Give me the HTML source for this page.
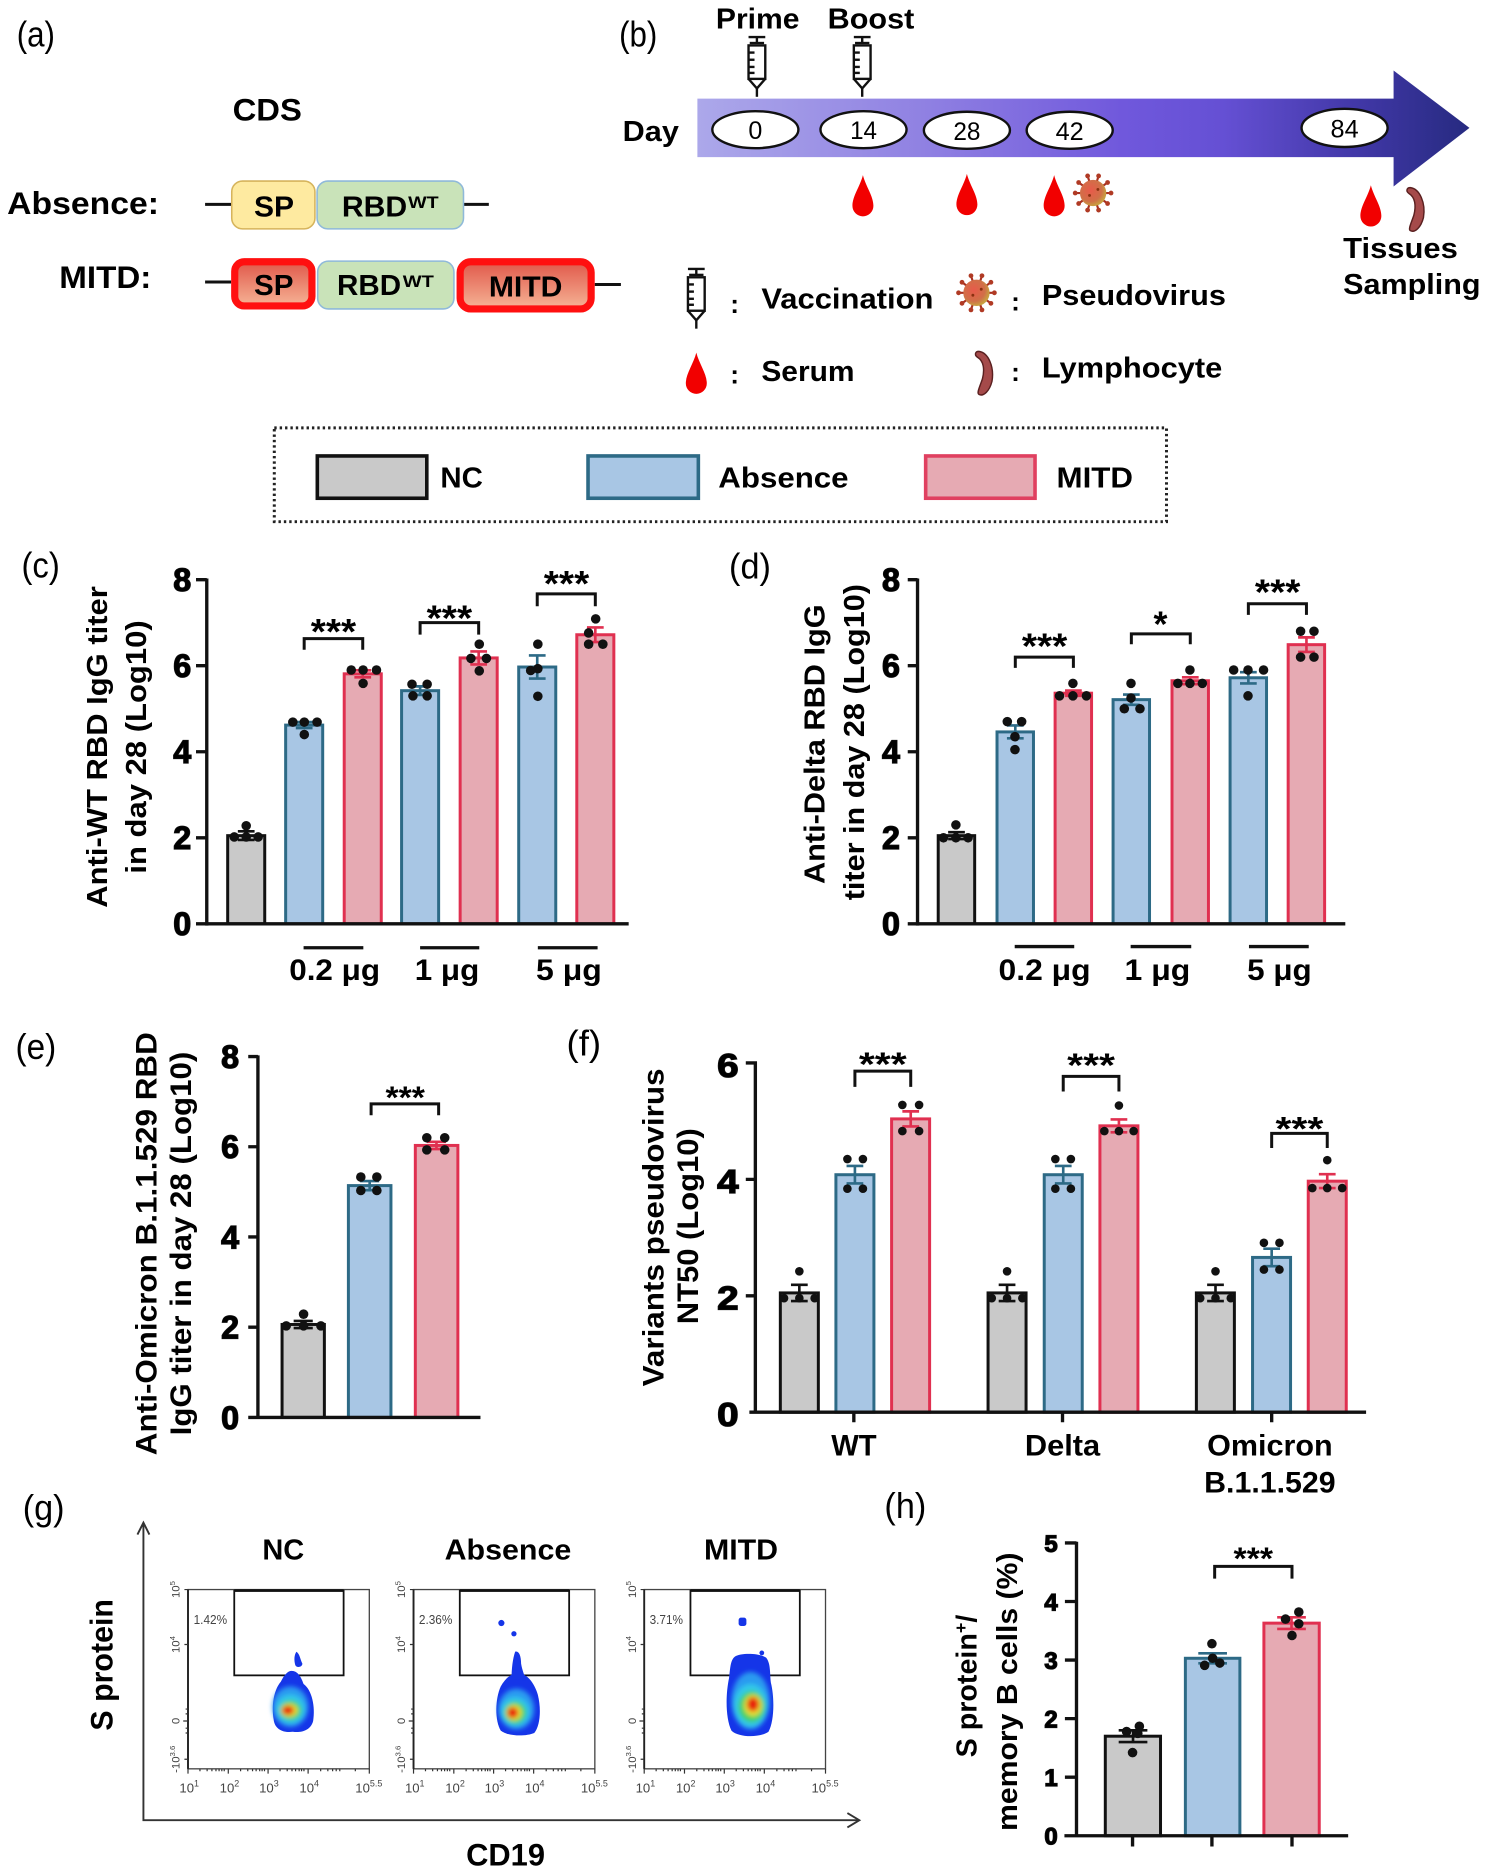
<!DOCTYPE html>
<html><head><meta charset="utf-8"><style>
html,body{margin:0;padding:0;background:#fff}
svg{display:block}
text{font-family:"Liberation Sans",Arial,"DejaVu Sans",sans-serif}
.b{font-weight:bold}
.tk{font-weight:bold;stroke:#111;stroke-width:1.1px;paint-order:stroke}
</style></head><body>
<svg width="1488" height="1874" viewBox="0 0 1245 1568" preserveAspectRatio="none" xmlns="http://www.w3.org/2000/svg">
<defs>
<linearGradient id="arrowG" gradientUnits="userSpaceOnUse" x1="583" y1="0" x2="1230" y2="0">
<stop offset="0" stop-color="#aca8ea"/><stop offset="0.3" stop-color="#8f80e2"/><stop offset="0.55" stop-color="#7058dc"/><stop offset="0.68" stop-color="#6550d4"/><stop offset="0.85" stop-color="#4238a8"/><stop offset="1" stop-color="#262a80"/>
</linearGradient>
<linearGradient id="redF" x1="0" y1="0" x2="0" y2="1"><stop offset="0" stop-color="#e0584a"/><stop offset="1" stop-color="#f6b496"/></linearGradient>
<radialGradient id="virG" cx="0.4" cy="0.4" r="0.6"><stop offset="0" stop-color="#e85a4a"/><stop offset="0.7" stop-color="#d07048"/><stop offset="1" stop-color="#c8a040"/></radialGradient>
<filter id="bl" x="-50%" y="-50%" width="200%" height="200%"><feGaussianBlur stdDeviation="2"/></filter>
<g id="syr" fill="none" stroke="#111" stroke-width="2">
<line x1="-7" y1="1" x2="7" y2="1"/><line x1="0" y1="1" x2="0" y2="6"/><line x1="-6" y1="6" x2="6" y2="6"/>
<rect x="-7" y="8" width="14" height="28" fill="#fff"/>
<line x1="-7" y1="14" x2="-2" y2="14"/><line x1="-7" y1="20" x2="-2" y2="20"/><line x1="-7" y1="26" x2="-2" y2="26"/><line x1="-7" y1="31" x2="-2" y2="31"/>
<polyline points="-7,36 0,44 7,36"/><line x1="0" y1="44" x2="0" y2="51"/>
</g>
<path id="drop" fill="#f20000" d="M0,0 C2,8 7.5,15 7.5,22 A7.5,7.5 0 0 1 -7.5,22 C-7.5,15 -2,8 0,0 Z"/>
<g id="vir">
<g stroke="#a83020" stroke-width="1.8"><line x1="0" y1="0" x2="15" y2="0"/><line x1="0" y1="0" x2="12.1" y2="8.8"/><line x1="0" y1="0" x2="4.6" y2="14.3"/><line x1="0" y1="0" x2="-4.6" y2="14.3"/><line x1="0" y1="0" x2="-12.1" y2="8.8"/><line x1="0" y1="0" x2="-15" y2="0"/><line x1="0" y1="0" x2="-12.1" y2="-8.8"/><line x1="0" y1="0" x2="-4.6" y2="-14.3"/><line x1="0" y1="0" x2="4.6" y2="-14.3"/><line x1="0" y1="0" x2="12.1" y2="-8.8"/></g>
<circle r="11" fill="url(#virG)"/>
<g fill="#b03a24"><circle cx="15" cy="0" r="2"/><circle cx="12.1" cy="8.8" r="2"/><circle cx="4.6" cy="14.3" r="2"/><circle cx="-4.6" cy="14.3" r="2"/><circle cx="-12.1" cy="8.8" r="2"/><circle cx="-15" cy="0" r="2"/><circle cx="-12.1" cy="-8.8" r="2"/><circle cx="-4.6" cy="-14.3" r="2"/><circle cx="4.6" cy="-14.3" r="2"/><circle cx="12.1" cy="-8.8" r="2"/></g>
<circle cx="-3" cy="2" r="1.2" fill="#8a3010"/><circle cx="4" cy="-3" r="1.2" fill="#8a3010"/>
</g>
<path id="lym" fill="#a54a4a" stroke="#5a2020" stroke-width="1.2" d="M1180,157 C1188,158 1193,170 1191,182 C1189,190 1184,195 1180,193 C1178,192 1181,186 1183,180 C1185,172 1184,165 1179,162 C1176,160 1177,157 1180,157 Z"/>
<g id="fp">
<rect x="0" y="0" width="151.7" height="150" fill="none" stroke="#444" stroke-width="1.1"/>
<line x1="0" y1="0" x2="0" y2="150" stroke="#222" stroke-width="1.6"/>
<line x1="38.7" y1="0.8" x2="130.2" y2="0.8" stroke="#111" stroke-width="2.2"/>
<rect x="38.7" y="1" width="91.5" height="70.8" fill="none" stroke="#111" stroke-width="1.5"/>
<path stroke="#333" stroke-width="1" fill="none" d="M-3,0H0M-3,46H0M-4,110H0M-3,142H0M-2,100H0M-2,104H0M-2,116H0M-2,120H0M0,150V154M33.7,150V154M67,150V154M100.5,150V154M151.7,150V154M10,150V152M16,150V152M20,150V152M23.4,150V152M26,150V152M28.3,150V152M30.3,150V152M44,150V152M50,150V152M54,150V152M57,150V152M60,150V152M62,150V152M64,150V152M77,150V152M83,150V152M87,150V152M90,150V152M93,150V152M95,150V152M97,150V152M111,150V152M117,150V152M121,150V152M124,150V152M127,150V152M140,150V152"/>
<g fill="#444" font-size="9.5">
<text transform="translate(-7,0) rotate(-90)" text-anchor="middle">10<tspan dy="-4" font-size="6.5">5</tspan></text>
<text transform="translate(-7,46) rotate(-90)" text-anchor="middle">10<tspan dy="-4" font-size="6.5">4</tspan></text>
<text transform="translate(-7,110) rotate(-90)" text-anchor="middle">0</text>
<text transform="translate(-7,142) rotate(-90)" text-anchor="middle">-10<tspan dy="-4" font-size="6.5">3.6</tspan></text>
</g>
<g fill="#444" font-size="11" text-anchor="middle">
<text x="1" y="170">10<tspan dy="-5" font-size="7.5">1</tspan></text>
<text x="34.7" y="170">10<tspan dy="-5" font-size="7.5">2</tspan></text>
<text x="67.7" y="170">10<tspan dy="-5" font-size="7.5">3</tspan></text>
<text x="101.4" y="170">10<tspan dy="-5" font-size="7.5">4</tspan></text>
<text x="151.3" y="170">10<tspan dy="-5" font-size="7.5">5.5</tspan></text>
</g>
</g>
</defs>

<!-- ================= (a) ================= -->
<text x="14" y="39" font-size="30" textLength="32" lengthAdjust="spacingAndGlyphs">(a)</text>
<text class="b" x="194.6" y="101" font-size="26" textLength="58" lengthAdjust="spacingAndGlyphs">CDS</text>
<text class="b" x="6" y="179" font-size="26" textLength="127" lengthAdjust="spacingAndGlyphs">Absence:</text>
<text class="b" x="49.6" y="241" font-size="26" textLength="77" lengthAdjust="spacingAndGlyphs">MITD:</text>
<g stroke="#111" stroke-width="2.5">
<line x1="171.6" y1="171" x2="193.4" y2="171"/><line x1="388" y1="171" x2="409" y2="171"/>
<line x1="171.6" y1="236" x2="193.4" y2="236"/><line x1="497.6" y1="238" x2="519.5" y2="238"/>
</g>
<rect x="193.9" y="151.5" width="69.6" height="40" rx="9" fill="#feeaa0" stroke="#d6b45c" stroke-width="1.3"/>
<rect x="265.3" y="151.5" width="122.5" height="40" rx="9" fill="#c9e3b9" stroke="#8fb9d9" stroke-width="1.3"/>
<text class="b" x="212.5" y="181" font-size="24" textLength="33.5" lengthAdjust="spacingAndGlyphs">SP</text>
<text class="b" x="286" y="181" font-size="24" textLength="54.7" lengthAdjust="spacingAndGlyphs">RBD</text>
<text class="b" x="341.5" y="174" font-size="14" textLength="25.5" lengthAdjust="spacingAndGlyphs">WT</text>
<rect x="265.8" y="218.5" width="114" height="40" rx="9" fill="#c9e3b9" stroke="#8fb9d9" stroke-width="1.3"/>
<rect x="196.4" y="219" width="64.6" height="37" rx="8" fill="url(#redF)" stroke="#ff1010" stroke-width="6"/>
<rect x="385" y="219" width="109.6" height="39.5" rx="9" fill="url(#redF)" stroke="#ff1010" stroke-width="6"/>
<text class="b" x="212.5" y="247" font-size="24" textLength="33" lengthAdjust="spacingAndGlyphs">SP</text>
<text class="b" x="282" y="247" font-size="24" textLength="53.6" lengthAdjust="spacingAndGlyphs">RBD</text>
<text class="b" x="337" y="240" font-size="14" textLength="26" lengthAdjust="spacingAndGlyphs">WT</text>
<text class="b" x="409" y="248" font-size="24" textLength="61.6" lengthAdjust="spacingAndGlyphs">MITD</text>

<!-- ================= (b) ================= -->
<text x="518" y="39" font-size="30" textLength="32" lengthAdjust="spacingAndGlyphs">(b)</text>
<text class="b" x="599" y="23.7" font-size="24" textLength="70" lengthAdjust="spacingAndGlyphs">Prime</text>
<text class="b" x="692.5" y="23.7" font-size="24" textLength="72.5" lengthAdjust="spacingAndGlyphs">Boost</text>
<use href="#syr" x="633.3" y="30"/>
<use href="#syr" x="721.4" y="30"/>
<polygon points="583.5,82.5 1166,82.5 1166,59 1229.5,107 1166,156 1166,131.5 583.5,131.5" fill="url(#arrowG)"/>
<text class="b" x="521" y="118" font-size="24" textLength="47" lengthAdjust="spacingAndGlyphs">Day</text>
<g fill="#fff" stroke="#111" stroke-width="2">
<ellipse cx="632" cy="108.5" rx="36" ry="15.5"/>
<ellipse cx="722.5" cy="108.5" rx="36" ry="15.5"/>
<ellipse cx="809" cy="109" rx="36" ry="15.5"/>
<ellipse cx="895" cy="109" rx="36" ry="15.5"/>
<ellipse cx="1125" cy="107" rx="36" ry="16"/>
</g>
<g font-size="21" text-anchor="middle">
<text x="632" y="116.5">0</text>
<text x="722.5" y="116.5" textLength="22.5" lengthAdjust="spacingAndGlyphs">14</text>
<text x="809" y="117" textLength="22.7" lengthAdjust="spacingAndGlyphs">28</text>
<text x="895" y="117" textLength="23.5" lengthAdjust="spacingAndGlyphs">42</text>
<text x="1125" y="115" textLength="23.5" lengthAdjust="spacingAndGlyphs">84</text>
</g>
<use href="#drop" transform="translate(722,146.5) scale(1.17)"/>
<use href="#drop" transform="translate(809,145.5) scale(1.17)"/>
<use href="#drop" transform="translate(882,146.5) scale(1.17)"/>
<use href="#drop" transform="translate(1147,155) scale(1.17)"/>
<use href="#vir" x="914.6" y="161.5"/>
<use href="#lym"/>
<text class="b" x="1123.8" y="216" font-size="24" textLength="96" lengthAdjust="spacingAndGlyphs">Tissues</text>
<text class="b" x="1123.8" y="246" font-size="24" textLength="115" lengthAdjust="spacingAndGlyphs">Sampling</text>
<use href="#syr" x="582.6" y="224"/>
<text class="b" x="611" y="262" font-size="22">:</text>
<text class="b" x="637" y="258" font-size="24" textLength="144" lengthAdjust="spacingAndGlyphs">Vaccination</text>
<use href="#vir" x="817" y="245"/>
<text class="b" x="846" y="260" font-size="22">:</text>
<text class="b" x="871.7" y="255" font-size="24" textLength="154" lengthAdjust="spacingAndGlyphs">Pseudovirus</text>
<use href="#drop" transform="translate(582.6,295) scale(1.17)"/>
<text class="b" x="611" y="321" font-size="22">:</text>
<text class="b" x="637" y="319" font-size="24" textLength="78" lengthAdjust="spacingAndGlyphs">Serum</text>
<use href="#lym" transform="translate(-361,137)"/>
<text class="b" x="846" y="319" font-size="22">:</text>
<text class="b" x="871.7" y="316" font-size="24" textLength="151" lengthAdjust="spacingAndGlyphs">Lymphocyte</text>

<!-- ================= legend ================= -->
<rect x="229.5" y="358" width="746.5" height="78.5" fill="none" stroke="#222" stroke-width="2.5" stroke-dasharray="2 2.5"/>
<rect x="265.5" y="381.5" width="91.6" height="35.4" fill="#c9c9c9" stroke="#111" stroke-width="3"/>
<text class="b" x="368.5" y="408" font-size="24" textLength="35.5" lengthAdjust="spacingAndGlyphs">NC</text>
<rect x="492" y="381.5" width="92.3" height="35.4" fill="#a8c6e4" stroke="#2d6a86" stroke-width="3"/>
<text class="b" x="601" y="408" font-size="24" textLength="109" lengthAdjust="spacingAndGlyphs">Absence</text>
<rect x="774.5" y="381.5" width="91.5" height="35.4" fill="#e6aab3" stroke="#e04060" stroke-width="3"/>
<text class="b" x="884" y="408" font-size="24" textLength="64" lengthAdjust="spacingAndGlyphs">MITD</text>

<!-- ================= (c) ================= -->
<text x="18" y="483" font-size="30" textLength="32" lengthAdjust="spacingAndGlyphs">(c)</text>
<text class="b" transform="translate(89.5,625) rotate(-90)" text-anchor="middle" font-size="24" textLength="269" lengthAdjust="spacingAndGlyphs">Anti-WT RBD IgG titer</text>
<text class="b" transform="translate(122,625) rotate(-90)" text-anchor="middle" font-size="24" textLength="212" lengthAdjust="spacingAndGlyphs">in day 28 (Log10)</text>
<g font-size="27" text-anchor="end">
<text x="160" y="494.5" class="tk">8</text><text x="160" y="566.5" class="tk">6</text><text x="160" y="638.5" class="tk">4</text><text x="160" y="710.5" class="tk">2</text><text x="160" y="782.5" class="tk">0</text>
</g>
<g stroke-width="2.5">
<rect x="190.5" y="699.2" width="31" height="73.8" fill="#c9c9c9" stroke="#111"/>
<rect x="239" y="606.7" width="31" height="166.3" fill="#a8c6e4" stroke="#2d6a86"/>
<rect x="288" y="563.8" width="31" height="209.2" fill="#e6aab3" stroke="#e03050"/>
<rect x="336" y="577.9" width="31" height="195.1" fill="#a8c6e4" stroke="#2d6a86"/>
<rect x="385" y="550.5" width="31" height="222.5" fill="#e6aab3" stroke="#e03050"/>
<rect x="434" y="558.1" width="31" height="214.9" fill="#a8c6e4" stroke="#2d6a86"/>
<rect x="482.6" y="531.1" width="31" height="241.9" fill="#e6aab3" stroke="#e03050"/>
</g>
<g fill="none" stroke-width="2.2">
<path stroke="#111" d="M206,695.6V702.8M199,695.6H213M199,702.8H213"/>
<path stroke="#2d6a86" d="M254.5,604.2V609.2M247.5,604.2H261.5M247.5,609.2H261.5"/>
<path stroke="#e03050" d="M303.5,560.9V566.7M296.5,560.9H310.5M296.5,566.7H310.5"/>
<path stroke="#2d6a86" d="M351.5,574.3V581.5M344.5,574.3H358.5M344.5,581.5H358.5"/>
<path stroke="#e03050" d="M400.5,545.1V555.9M393.5,545.1H407.5M393.5,555.9H407.5"/>
<path stroke="#2d6a86" d="M449.5,548.4V567.8M442.5,548.4H456.5M442.5,567.8H456.5"/>
<path stroke="#e03050" d="M498.1,525V537.2M491.1,525H505.1M491.1,537.2H505.1"/>
</g>
<g fill="#111">
<circle cx="206" cy="690.9" r="4"/><circle cx="196" cy="700.3" r="4"/><circle cx="206" cy="700.3" r="4"/><circle cx="216" cy="700.3" r="4"/>
<circle cx="245" cy="604.2" r="4"/><circle cx="254.6" cy="604.2" r="4"/><circle cx="265.3" cy="604.2" r="4"/><circle cx="254.6" cy="614.6" r="4"/>
<circle cx="293.9" cy="560.6" r="4"/><circle cx="303.8" cy="560.6" r="4"/><circle cx="315" cy="560.6" r="4"/><circle cx="303.8" cy="571.8" r="4"/>
<circle cx="344.7" cy="572.5" r="4"/><circle cx="357.4" cy="572.5" r="4"/><circle cx="345.5" cy="582.2" r="4"/><circle cx="357.4" cy="582.2" r="4"/>
<circle cx="401" cy="539" r="4"/><circle cx="394" cy="550.9" r="4"/><circle cx="407" cy="550.9" r="4"/><circle cx="401" cy="561.3" r="4"/>
<circle cx="450" cy="539" r="4"/><circle cx="450" cy="559.5" r="4"/><circle cx="444" cy="561" r="4"/><circle cx="450" cy="582.6" r="4"/>
<circle cx="498.4" cy="517.8" r="4"/><circle cx="492.5" cy="529.6" r="4"/><circle cx="492.5" cy="539" r="4"/><circle cx="504.4" cy="539" r="4"/>
</g>
<g fill="none" stroke="#111" stroke-width="2.5">
<path d="M254.5,543.7V534.3H303.5V543.7"/><path d="M351.5,531V521H400.5V531"/><path d="M449.5,507.3V496.9H498.1V507.3"/>
</g>
<g class="b" font-size="30" text-anchor="middle">
<text x="279" y="539" class="b" textLength="38" lengthAdjust="spacingAndGlyphs">***</text>
<text x="376" y="527.4" class="b" textLength="38" lengthAdjust="spacingAndGlyphs">***</text>
<text x="474" y="498.8" class="b" textLength="38" lengthAdjust="spacingAndGlyphs">***</text>
</g>
<g stroke="#111" stroke-width="2.8" fill="none">
<path d="M173,484V774.5M164,485H173M164,557H173M164,629H173M164,701H173M164,773H526"/>
<path d="M254,793H304M351.5,793H401M450,793H500"/>
</g>
<g class="b" font-size="25" text-anchor="middle">
<text x="280" y="820" class="b" textLength="76" lengthAdjust="spacingAndGlyphs">0.2 μg</text>
<text x="374" y="820" class="b" textLength="54" lengthAdjust="spacingAndGlyphs">1 μg</text>
<text x="476" y="820" class="b" textLength="55" lengthAdjust="spacingAndGlyphs">5 μg</text>
</g>

<!-- ================= (d) ================= -->
<text x="610" y="484" font-size="30" textLength="35" lengthAdjust="spacingAndGlyphs">(d)</text>
<text class="b" transform="translate(690,622.7) rotate(-90)" text-anchor="middle" font-size="24" textLength="234" lengthAdjust="spacingAndGlyphs">Anti-Delta RBD IgG</text>
<text class="b" transform="translate(723,621) rotate(-90)" text-anchor="middle" font-size="24" textLength="264.6" lengthAdjust="spacingAndGlyphs">titer in day 28 (Log10)</text>
<g font-size="27" text-anchor="end">
<text x="753" y="494.5" class="tk">8</text><text x="753" y="566.5" class="tk">6</text><text x="753" y="638.5" class="tk">4</text><text x="753" y="710.5" class="tk">2</text><text x="753" y="782.5" class="tk">0</text>
</g>
<g stroke-width="2.5">
<rect x="785" y="699.2" width="30.5" height="73.8" fill="#c9c9c9" stroke="#111"/>
<rect x="834.2" y="612.4" width="30.5" height="160.6" fill="#a8c6e4" stroke="#2d6a86"/>
<rect x="882.8" y="580" width="30.5" height="193" fill="#e6aab3" stroke="#e03050"/>
<rect x="931.3" y="585.4" width="30.5" height="187.6" fill="#a8c6e4" stroke="#2d6a86"/>
<rect x="980.6" y="569.6" width="30.5" height="203.4" fill="#e6aab3" stroke="#e03050"/>
<rect x="1029.2" y="567.1" width="30.5" height="205.9" fill="#a8c6e4" stroke="#2d6a86"/>
<rect x="1077.8" y="539.4" width="30.5" height="233.6" fill="#e6aab3" stroke="#e03050"/>
</g>
<g fill="none" stroke-width="2.2">
<path stroke="#111" d="M800.3,696.3V702.1M793.3,696.3H807.3M793.3,702.1H807.3"/>
<path stroke="#2d6a86" d="M849.5,607V617.8M842.5,607H856.5M842.5,617.8H856.5"/>
<path stroke="#e03050" d="M898.1,577.8V582.2M891.1,577.8H905.1M891.1,582.2H905.1"/>
<path stroke="#2d6a86" d="M946.6,581.1V589.7M939.6,581.1H953.6M939.6,589.7H953.6"/>
<path stroke="#e03050" d="M995.9,566.7V572.5M988.9,566.7H1002.9M988.9,572.5H1002.9"/>
<path stroke="#2d6a86" d="M1044.5,562.4V571.8M1037.5,562.4H1051.5M1037.5,571.8H1051.5"/>
<path stroke="#e03050" d="M1093.1,533.3V545.5M1086.1,533.3H1100.1M1086.1,545.5H1100.1"/>
</g>
<g fill="#111">
<circle cx="799.8" cy="690.2" r="4"/><circle cx="789.4" cy="701" r="4"/><circle cx="799.8" cy="701" r="4"/><circle cx="810" cy="701" r="4"/>
<circle cx="842.8" cy="603.8" r="4"/><circle cx="854.8" cy="603.8" r="4"/><circle cx="849.2" cy="616.4" r="4"/><circle cx="849.2" cy="627.2" r="4"/>
<circle cx="897.7" cy="571.8" r="4"/><circle cx="886.5" cy="582.2" r="4"/><circle cx="897.7" cy="582.2" r="4"/><circle cx="909" cy="582.2" r="4"/>
<circle cx="946.3" cy="571.8" r="4"/><circle cx="946.3" cy="584" r="4"/><circle cx="940.7" cy="593" r="4"/><circle cx="953.8" cy="593" r="4"/>
<circle cx="995.6" cy="560.6" r="4"/><circle cx="985.5" cy="571.8" r="4"/><circle cx="995.6" cy="571.8" r="4"/><circle cx="1006" cy="571.8" r="4"/>
<circle cx="1032.2" cy="560.6" r="4"/><circle cx="1044.2" cy="560.6" r="4"/><circle cx="1057.2" cy="560.6" r="4"/><circle cx="1044.2" cy="582.2" r="4"/>
<circle cx="1088.2" cy="528.2" r="4"/><circle cx="1099.4" cy="528.2" r="4"/><circle cx="1088.2" cy="549.8" r="4"/><circle cx="1099.4" cy="549.8" r="4"/>
</g>
<g fill="none" stroke="#111" stroke-width="2.5">
<path d="M849.5,558.8V549.8H898.1V558.8"/><path d="M946.6,539V530.4H995.9V539"/><path d="M1044.5,514.5V505.2H1093.1V514.5"/>
</g>
<g class="b" font-size="30" text-anchor="middle">
<text x="874" y="551" class="b" textLength="38" lengthAdjust="spacingAndGlyphs">***</text>
<text x="971" y="532.4" class="b">*</text>
<text x="1069" y="506" class="b" textLength="38" lengthAdjust="spacingAndGlyphs">***</text>
</g>
<g stroke="#111" stroke-width="2.8" fill="none">
<path d="M767.7,484V774.5M759.5,485H767.7M759.5,557H767.7M759.5,629H767.7M759.5,701H767.7M759.5,773H1125.6"/>
<path d="M849,792H898.8M946,792H996.7M1045,792H1095"/>
</g>
<g class="b" font-size="25" text-anchor="middle">
<text x="874" y="820" class="b" textLength="77" lengthAdjust="spacingAndGlyphs">0.2 μg</text>
<text x="968.4" y="820" class="b" textLength="55" lengthAdjust="spacingAndGlyphs">1 μg</text>
<text x="1070.5" y="820" class="b" textLength="54" lengthAdjust="spacingAndGlyphs">5 μg</text>
</g>

<!-- ================= (e) ================= -->
<text x="13" y="886" font-size="30" textLength="34" lengthAdjust="spacingAndGlyphs">(e)</text>
<text class="b" transform="translate(131,1040.6) rotate(-90)" text-anchor="middle" font-size="25" textLength="354" lengthAdjust="spacingAndGlyphs">Anti-Omicron B.1.1.529 RBD</text>
<text class="b" transform="translate(160,1040.5) rotate(-90)" text-anchor="middle" font-size="25" textLength="321" lengthAdjust="spacingAndGlyphs">IgG titer in day 28 (Log10)</text>
<g font-size="27" text-anchor="end">
<text x="200" y="893.5" class="tk">8</text><text x="200" y="969" class="tk">6</text><text x="200" y="1044.5" class="tk">4</text><text x="200" y="1120" class="tk">2</text><text x="200" y="1195.5" class="tk">0</text>
</g>
<g stroke-width="2.5">
<rect x="236" y="1108.2" width="35.4" height="77.8" fill="#c9c9c9" stroke="#111"/>
<rect x="291.5" y="992" width="35.6" height="194" fill="#a8c6e4" stroke="#2d6a86"/>
<rect x="347.5" y="958.4" width="35.6" height="227.6" fill="#e6aab3" stroke="#e03050"/>
</g>
<g fill="none" stroke-width="2.2">
<path stroke="#111" d="M253.7,1105.2V1111.2M245.7,1105.2H261.7M245.7,1111.2H261.7"/>
<path stroke="#2d6a86" d="M309.3,988.2V995.8M301.3,988.2H317.3M301.3,995.8H317.3"/>
<path stroke="#e03050" d="M365.2,955.4V961.4M357.2,955.4H373.2M357.2,961.4H373.2"/>
</g>
<g fill="#111">
<circle cx="254" cy="1099.6" r="4"/><circle cx="239.5" cy="1109.4" r="4"/><circle cx="254" cy="1109.4" r="4"/><circle cx="268.5" cy="1109.4" r="4"/>
<circle cx="301.9" cy="984.8" r="4"/><circle cx="315.3" cy="984.8" r="4"/><circle cx="301.9" cy="996.1" r="4"/><circle cx="315.3" cy="996.1" r="4"/>
<circle cx="357.1" cy="952" r="4"/><circle cx="372.1" cy="952" r="4"/><circle cx="357.1" cy="962.1" r="4"/><circle cx="372.1" cy="962.1" r="4"/>
</g>
<path d="M310.5,933.1V923.6H367V933.1" fill="none" stroke="#111" stroke-width="2.5"/>
<text class="b" x="339" y="927" font-size="26" text-anchor="middle" textLength="33" lengthAdjust="spacingAndGlyphs">***</text>
<path d="M215.8,883V1187M207.7,884H215.8M207.7,959.5H215.8M207.7,1035H215.8M207.7,1110.5H215.8M207.7,1186H402" fill="none" stroke="#111" stroke-width="2.8"/>

<!-- ================= (f) ================= -->
<text x="474" y="883" font-size="30" textLength="29" lengthAdjust="spacingAndGlyphs">(f)</text>
<text class="b" transform="translate(555,1027) rotate(-90)" text-anchor="middle" font-size="25" textLength="266" lengthAdjust="spacingAndGlyphs">Variants pseudovirus</text>
<text class="b" transform="translate(584,1026) rotate(-90)" text-anchor="middle" font-size="25" textLength="164" lengthAdjust="spacingAndGlyphs">NT50 (Log10)</text>
<g font-size="28" text-anchor="end">
<text x="618" y="901" class="tk" textLength="18" lengthAdjust="spacingAndGlyphs">6</text>
<text x="618" y="998.4" class="tk" textLength="18" lengthAdjust="spacingAndGlyphs">4</text>
<text x="618" y="1095.8" class="tk" textLength="18" lengthAdjust="spacingAndGlyphs">2</text>
<text x="618" y="1193.2" class="tk" textLength="18" lengthAdjust="spacingAndGlyphs">0</text>
</g>
<g stroke-width="2.5">
<rect x="652.9" y="1081.8" width="31.8" height="99.8" fill="#c9c9c9" stroke="#111"/>
<rect x="699.4" y="982.9" width="31.8" height="198.7" fill="#a8c6e4" stroke="#2d6a86"/>
<rect x="746" y="936.2" width="31.8" height="245.4" fill="#e6aab3" stroke="#e03050"/>
<rect x="826.7" y="1081.8" width="31.8" height="99.8" fill="#c9c9c9" stroke="#111"/>
<rect x="873.7" y="982.9" width="31.8" height="198.7" fill="#a8c6e4" stroke="#2d6a86"/>
<rect x="920.3" y="942" width="31.8" height="239.6" fill="#e6aab3" stroke="#e03050"/>
<rect x="1001" y="1081.8" width="31.8" height="99.8" fill="#c9c9c9" stroke="#111"/>
<rect x="1048" y="1052.1" width="31.8" height="129.5" fill="#a8c6e4" stroke="#2d6a86"/>
<rect x="1094.6" y="988.3" width="31.8" height="193.3" fill="#e6aab3" stroke="#e03050"/>
</g>
<g fill="none" stroke-width="2.2">
<path stroke="#111" d="M668.8,1075V1088.6M661.8,1075H675.8M661.8,1088.6H675.8"/>
<path stroke="#2d6a86" d="M715.3,975.6V990.2M708.3,975.6H722.3M708.3,990.2H722.3"/>
<path stroke="#e03050" d="M762,929.9V942.5M755,929.9H769M755,942.5H769"/>
<path stroke="#111" d="M842.6,1075V1088.6M835.6,1075H849.6M835.6,1088.6H849.6"/>
<path stroke="#2d6a86" d="M889.6,975.6V990.2M882.6,975.6H896.6M882.6,990.2H896.6"/>
<path stroke="#e03050" d="M936.2,936.6V947.4M929.2,936.6H943.2M929.2,947.4H943.2"/>
<path stroke="#111" d="M1017,1075V1088.6M1010,1075H1024M1010,1088.6H1024"/>
<path stroke="#2d6a86" d="M1064,1044.8V1059.4M1057,1044.8H1071M1057,1059.4H1071"/>
<path stroke="#e03050" d="M1110.5,982.5V994.1M1103.5,982.5H1117.5M1103.5,994.1H1117.5"/>
</g>
<g fill="#111">
<circle cx="668.8" cy="1063.7" r="3.6"/><circle cx="656" cy="1086.2" r="3.6"/><circle cx="668.8" cy="1086.2" r="3.6"/><circle cx="681.6" cy="1086.2" r="3.6"/>
<circle cx="709" cy="969.8" r="3.6"/><circle cx="722" cy="969.8" r="3.6"/><circle cx="709" cy="994.6" r="3.6"/><circle cx="722" cy="994.6" r="3.6"/>
<circle cx="755" cy="924.5" r="3.6"/><circle cx="769" cy="924.5" r="3.6"/><circle cx="755" cy="946.4" r="3.6"/><circle cx="769" cy="946.4" r="3.6"/>
<circle cx="842.6" cy="1063.7" r="3.6"/><circle cx="829.8" cy="1086.2" r="3.6"/><circle cx="842.6" cy="1086.2" r="3.6"/><circle cx="855.4" cy="1086.2" r="3.6"/>
<circle cx="883" cy="969.8" r="3.6"/><circle cx="896" cy="969.8" r="3.6"/><circle cx="883" cy="994.6" r="3.6"/><circle cx="896" cy="994.6" r="3.6"/>
<circle cx="936.2" cy="925" r="3.6"/><circle cx="924" cy="946.4" r="3.6"/><circle cx="936.2" cy="946.4" r="3.6"/><circle cx="948.5" cy="946.4" r="3.6"/>
<circle cx="1017" cy="1063.7" r="3.6"/><circle cx="1004.2" cy="1086.2" r="3.6"/><circle cx="1017" cy="1086.2" r="3.6"/><circle cx="1029.8" cy="1086.2" r="3.6"/>
<circle cx="1057.5" cy="1039.9" r="3.6"/><circle cx="1070.5" cy="1039.9" r="3.6"/><circle cx="1057.5" cy="1062.3" r="3.6"/><circle cx="1070.5" cy="1062.3" r="3.6"/>
<circle cx="1110.5" cy="970.7" r="3.6"/><circle cx="1098" cy="994.1" r="3.6"/><circle cx="1110.5" cy="994.1" r="3.6"/><circle cx="1123" cy="994.1" r="3.6"/>
</g>
<g fill="none" stroke="#111" stroke-width="2.5">
<path d="M715.3,909.4V896.2H762V909.4"/><path d="M889.6,913.3V900.6H936.2V913.3"/><path d="M1064,960.5V948.3H1110.5V960.5"/>
</g>
<g class="b" font-size="28" text-anchor="middle">
<text x="738.6" y="899.8" class="b" textLength="40" lengthAdjust="spacingAndGlyphs">***</text>
<text x="912.9" y="900.7" class="b" textLength="40" lengthAdjust="spacingAndGlyphs">***</text>
<text x="1087.2" y="953.8" class="b" textLength="40" lengthAdjust="spacingAndGlyphs">***</text>
</g>
<path d="M632,888V1182.6M624,889.4H632M624,986.8H632M624,1084.2H632M627,1181.6H1143M714.4,1181.6V1190M889,1181.6V1190M1064,1181.6V1190" fill="none" stroke="#111" stroke-width="2.8"/>
<g class="b" font-size="25" text-anchor="middle">
<text x="714.5" y="1218" class="b" textLength="38" lengthAdjust="spacingAndGlyphs">WT</text>
<text x="889" y="1218" class="b" textLength="63" lengthAdjust="spacingAndGlyphs">Delta</text>
<text x="1062.5" y="1218" class="b" textLength="105" lengthAdjust="spacingAndGlyphs">Omicron</text>
<text x="1062.5" y="1249" class="b" textLength="110" lengthAdjust="spacingAndGlyphs">B.1.1.529</text>
</g>

<!-- ================= (g) ================= -->
<text x="19" y="1272" font-size="30" textLength="35" lengthAdjust="spacingAndGlyphs">(g)</text>
<text class="b" transform="translate(94,1393) rotate(-90)" text-anchor="middle" font-size="26" textLength="110" lengthAdjust="spacingAndGlyphs">S protein</text>
<g fill="none" stroke="#333" stroke-width="1.6">
<path d="M120,1275V1523H718"/><path d="M115,1284L120,1274L125,1284"/><path d="M709,1517L719,1523L709,1529"/>
</g>
<g class="b" font-size="24" text-anchor="middle">
<text x="237" y="1305" class="b" textLength="35" lengthAdjust="spacingAndGlyphs">NC</text>
<text x="425" y="1305" class="b" textLength="106" lengthAdjust="spacingAndGlyphs">Absence</text>
<text x="620" y="1305" class="b" textLength="62" lengthAdjust="spacingAndGlyphs">MITD</text>
</g>
<text class="b" x="423" y="1561" font-size="26" text-anchor="middle" textLength="66" lengthAdjust="spacingAndGlyphs">CD19</text>
<use href="#fp" x="157.3" y="1330"/>
<use href="#fp" x="346" y="1330"/>
<use href="#fp" x="539" y="1330"/>
<g fill="#444" font-size="11">
<text x="162" y="1359" textLength="28" lengthAdjust="spacingAndGlyphs">1.42%</text>
<text x="350.5" y="1359" textLength="28" lengthAdjust="spacingAndGlyphs">2.36%</text>
<text x="543.5" y="1359" textLength="28" lengthAdjust="spacingAndGlyphs">3.71%</text>
</g>
<!-- blob 1 -->
<path fill="#1535e8" d="M244,1398 C249,1398 252,1403 254,1409 C261,1414 264,1428 262,1440 C260,1448 252,1450 245,1449 C237,1450 230,1447 229,1439 C227,1427 229,1414 235,1407 C238,1401 241,1398 244,1398Z"/>
<path fill="#1535e8" d="M248,1382 C251,1384 251,1388 253,1392 C253,1395 248,1396 247,1393 C246,1389 246,1385 248,1382Z"/>
<g filter="url(#bl)">
<ellipse cx="243" cy="1428" rx="15" ry="17" fill="#2a9af0"/><ellipse cx="243" cy="1430" rx="12" ry="12" fill="#30c8e8"/><ellipse cx="243" cy="1431" rx="9" ry="8" fill="#40d060"/><ellipse cx="242" cy="1431" rx="7" ry="5.5" fill="#e8e030"/><ellipse cx="241" cy="1431" rx="5" ry="3.8" fill="#e82010"/>
</g>
<!-- blob 2 -->
<path fill="#1535e8" d="M433,1400 C441,1400 447,1408 450,1418 C453,1430 452,1444 447,1450 C440,1453 425,1453 419,1448 C414,1440 414,1422 419,1411 C423,1404 428,1400 433,1400Z"/>
<path fill="#1535e8" d="M428,1405 C428,1396 429,1388 431,1382 C434,1381 436,1385 436,1392 C437,1398 439,1402 440,1406 Z"/>
<circle cx="419.5" cy="1358" r="2.6" fill="#1535e8"/><circle cx="430" cy="1367" r="2.2" fill="#1535e8"/>
<g filter="url(#bl)">
<ellipse cx="432" cy="1430" rx="15" ry="17" fill="#2a9af0"/><ellipse cx="431" cy="1432" rx="12" ry="12" fill="#30c8e8"/><ellipse cx="431" cy="1433" rx="9" ry="9" fill="#40d060"/><ellipse cx="430" cy="1433" rx="6.5" ry="6.5" fill="#e8e030"/><ellipse cx="429" cy="1433" rx="4.5" ry="4.5" fill="#e82010"/>
</g>
<!-- blob 3 -->
<path fill="#1535e8" d="M615,1386 C620,1383 635,1383 641,1387 C645,1392 644,1400 645,1408 C648,1420 648,1440 643,1449 C636,1454 618,1454 612,1448 C607,1438 607,1418 610,1404 C611,1396 611,1389 615,1386Z"/>
<rect x="618" y="1353.5" width="6.5" height="7" rx="2" fill="#1535e8"/><circle cx="637.4" cy="1383" r="2" fill="#1535e8"/>
<g filter="url(#bl)">
<ellipse cx="628" cy="1423" rx="16" ry="24" fill="#2a9af0"/><ellipse cx="628" cy="1427" rx="14" ry="18" fill="#30c8e8"/><ellipse cx="629" cy="1428" rx="11" ry="13" fill="#40d060"/><ellipse cx="630" cy="1427" rx="7.5" ry="9" fill="#e8e030"/><ellipse cx="630" cy="1426" rx="5" ry="6" fill="#e82010"/>
</g>

<!-- ================= (h) ================= -->
<text x="740" y="1270" font-size="30" textLength="35" lengthAdjust="spacingAndGlyphs">(h)</text>
<text class="b" transform="translate(817,1410.7) rotate(-90)" text-anchor="middle" font-size="24">S protein<tspan dy="-8" font-size="15">+</tspan><tspan dy="8">/</tspan></text>
<text class="b" transform="translate(851,1415.5) rotate(-90)" text-anchor="middle" font-size="24" textLength="233" lengthAdjust="spacingAndGlyphs">memory B cells (%)</text>
<g font-size="20" text-anchor="end">
<text x="885" y="1298.5" class="tk">5</text><text x="885" y="1347.5" class="tk">4</text><text x="885" y="1396.5" class="tk">3</text><text x="885" y="1445.5" class="tk">2</text><text x="885" y="1494.5" class="tk">1</text><text x="885" y="1543.5" class="tk">0</text>
</g>
<g stroke-width="2.5">
<rect x="924.8" y="1452.7" width="46.2" height="83.3" fill="#c9c9c9" stroke="#111"/>
<rect x="991.8" y="1387.5" width="45.6" height="148.5" fill="#a8c6e4" stroke="#2d6a86"/>
<rect x="1057.5" y="1358.1" width="46.3" height="177.9" fill="#e6aab3" stroke="#e03050"/>
</g>
<g fill="none" stroke-width="2.2">
<path stroke="#111" d="M948,1447.8V1457.6M936,1447.8H960M936,1457.6H960"/>
<path stroke="#2d6a86" d="M1014.6,1383.3V1391.7M1002.6,1383.3H1026.6M1002.6,1391.7H1026.6"/>
<path stroke="#e03050" d="M1080.6,1353.2V1363M1068.6,1353.2H1092.6M1068.6,1363H1092.6"/>
</g>
<g fill="#111">
<circle cx="953.3" cy="1444.4" r="4"/><circle cx="942.6" cy="1448.8" r="4"/><circle cx="952" cy="1450.3" r="4"/><circle cx="947.6" cy="1466.4" r="4"/>
<circle cx="1014" cy="1375.3" r="4"/><circle cx="1014.6" cy="1387.5" r="4"/><circle cx="1007.9" cy="1393.4" r="4"/><circle cx="1020.6" cy="1391.5" r="4"/>
<circle cx="1086.7" cy="1348.8" r="4"/><circle cx="1075.6" cy="1354.7" r="4"/><circle cx="1086.7" cy="1358.6" r="4"/><circle cx="1081" cy="1368.4" r="4"/>
</g>
<path d="M1016.3,1320.9V1310.6H1081V1320.9" fill="none" stroke="#111" stroke-width="2.5"/>
<text class="b" x="1048.6" y="1313" font-size="26" text-anchor="middle" textLength="33" lengthAdjust="spacingAndGlyphs">***</text>
<path d="M900.7,1290V1537M891,1291H900.7M891,1340H900.7M891,1389H900.7M891,1438H900.7M891,1487H900.7M890.6,1536H1128M947.6,1536V1545M1014,1536V1545M1081,1536V1545" fill="none" stroke="#111" stroke-width="2.8"/>
</svg>
</body></html>
